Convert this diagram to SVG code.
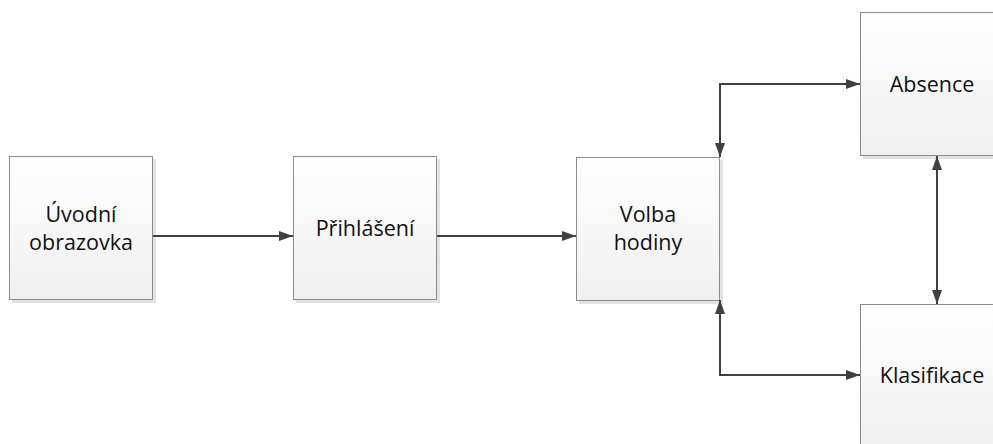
<svg xmlns="http://www.w3.org/2000/svg" width="993" height="444" viewBox="0 0 993 444">
<defs>
<linearGradient id="g" x1="0" y1="0" x2="0" y2="1">
<stop offset="0" stop-color="#ffffff"/>
<stop offset="1" stop-color="#f0f0f0"/>
</linearGradient>
<marker id="ah" viewBox="0 0 14 10" refX="14" refY="5" markerWidth="14" markerHeight="10" markerUnits="userSpaceOnUse" orient="auto-start-reverse">
<path d="M0,0 L14,5 L0,10 Z" fill="#404040"/>
</marker>
</defs>
<style>
.sh{fill:#e3e3e3}
.bx{fill:url(#g);stroke:#8c8c8c;stroke-width:1}
.t{font-family:"Open Sans","Liberation Sans",sans-serif;font-size:21.5px;fill:#111;text-anchor:middle}
.c{fill:none;stroke:#404040;stroke-width:2}
</style>
<rect width="993" height="444" fill="#fff"/>
<g id="n1">
<rect class="sh" x="12" y="159" width="144" height="144"/>
<rect class="bx" x="9.5" y="156.5" width="143" height="143"/>
<text class="t" x="81" y="222">Úvodní</text>
<text class="t" x="81" y="250">obrazovka</text>
</g>
<g id="n2">
<rect class="sh" x="296" y="159" width="144" height="144"/>
<rect class="bx" x="293.5" y="156.5" width="143" height="143"/>
<text class="t" x="365" y="236">Přihlášení</text>
</g>
<g id="n3">
<rect class="sh" x="579" y="160" width="144" height="144"/>
<rect class="bx" x="576.5" y="157.5" width="143" height="143"/>
<text class="t" x="648" y="222">Volba</text>
<text class="t" x="648" y="250">hodiny</text>
</g>
<g id="n4">
<rect class="sh" x="863" y="15" width="144" height="144"/>
<rect class="bx" x="860.5" y="12.5" width="143" height="143"/>
<text class="t" x="932" y="92">Absence</text>
</g>
<g id="n5">
<rect class="sh" x="863" y="307" width="144" height="144"/>
<rect class="bx" x="860.5" y="304.5" width="143" height="143"/>
<text class="t" x="932" y="383">Klasifikace</text>
</g>
<g id="connectors">
<path class="c" d="M153,236 L293,236" marker-end="url(#ah)"/>
<path class="c" d="M437,236 L576,236" marker-end="url(#ah)"/>
<path class="c" d="M720,157 L720,84 L860,84" marker-start="url(#ah)" marker-end="url(#ah)"/>
<path class="c" d="M720,300 L720,375 L860,375" marker-start="url(#ah)" marker-end="url(#ah)"/>
<path class="c" d="M937,156 L937,304" marker-start="url(#ah)" marker-end="url(#ah)"/>
</g>
</svg>
